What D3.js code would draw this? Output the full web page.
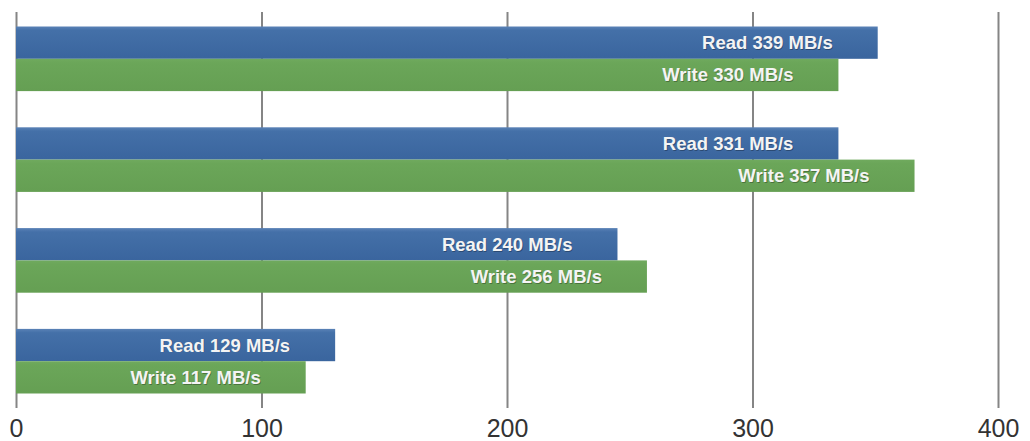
<!DOCTYPE html>
<html>
<head>
<meta charset="utf-8">
<script src="https://cdn.jsdelivr.net/npm/d3@7"></script>
<style>
  html, body { margin: 0; padding: 0; background: #ffffff; }
  svg { display: block; }
</style>
</head>
<body>
<svg id="chart" width="1030" height="441"></svg>
<script>
// ---- data ----
const groups = ["A", "B", "C", "D"];
const series = ["Read", "Write"];
// bar lengths as drawn (MB/s)
const readValues  = [351, 335, 245, 130];
const writeValues = [335, 366, 257, 118];
// labels printed on the bars
const readLabels  = [339, 331, 240, 129];
const writeLabels = [330, 357, 256, 117];
const tickValues = [0, 100, 200, 300, 400];

// ---- layout ----
const svg = d3.select("#chart");
const x = d3.scaleLinear().domain([0, 400]).range([16, 998]);
const y = d3.scaleBand().domain(groups).range([26.5, 393.5]).paddingInner(0.359).paddingOuter(0);
const yInner = d3.scaleBand().domain(series).range([0, y.bandwidth()]).padding(0);

const defs = svg.append("defs");
function grad(id, c0, c1, c2) {
  const g = defs.append("linearGradient").attr("id", id)
    .attr("x1", 0).attr("y1", 0).attr("x2", 0).attr("y2", 1);
  g.append("stop").attr("offset", "0%").attr("stop-color", c0);
  g.append("stop").attr("offset", "12%").attr("stop-color", c1);
  g.append("stop").attr("offset", "100%").attr("stop-color", c2);
}
grad("gRead", "#5a82b6", "#4470a8", "#3a659e");
grad("gWrite", "#70aa5e", "#6ba659", "#659f53");
const fills = { Read: "url(#gRead)", Write: "url(#gWrite)" };

// gridlines + axis
const axis = d3.axisBottom(x).tickValues(tickValues).tickSize(0).tickPadding(0);
const axG = svg.append("g").attr("transform", "translate(0,408)").call(axis);
axG.select(".domain").remove();
axG.selectAll(".tick line").remove();
axG.selectAll(".tick").append("line")
  .attr("x1", 0).attr("x2", 0).attr("y1", -396).attr("y2", 0)
  .attr("stroke", "#858585").attr("stroke-width", 2);
axG.selectAll(".tick text")
  .attr("y", 29)
  .attr("dy", 0)
  .attr("fill", "#333")
  .style("font-family", "'Liberation Sans', Arial, sans-serif")
  .style("font-size", "25px");

// bars
const rows = [];
groups.forEach((g, i) => {
  rows.push({ group: g, s: "Read", v: readValues[i], label: readLabels[i] });
  rows.push({ group: g, s: "Write", v: writeValues[i], label: writeLabels[i] });
});

const barG = svg.append("g");
barG.selectAll("rect").data(rows).join("rect")
  .attr("x", x(0))
  .attr("y", d => y(d.group) + yInner(d.s))
  .attr("width", d => x(d.v) - x(0))
  .attr("height", yInner.bandwidth())
  .attr("fill", d => fills[d.s]);

// labels
const lblG = svg.append("g")
  .style("font-family", "'Liberation Sans', Arial, sans-serif")
  .style("font-size", "18.5px")
  .style("font-weight", "bold");
lblG.selectAll("text.sh").data(rows).join("text").attr("class", "sh")
  .attr("x", d => x(d.v) - 45 + 0.8)
  .attr("y", d => y(d.group) + yInner(d.s) + yInner.bandwidth() / 2 + 0.8)
  .attr("dy", "0.35em")
  .attr("text-anchor", "end")
  .attr("fill", "rgba(0,0,0,0.3)")
  .text(d => `${d.s} ${d.label} MB/s`);
lblG.selectAll("text.lb").data(rows).join("text").attr("class", "lb")
  .attr("x", d => x(d.v) - 45)
  .attr("y", d => y(d.group) + yInner(d.s) + yInner.bandwidth() / 2)
  .attr("dy", "0.35em")
  .attr("text-anchor", "end")
  .attr("fill", "#f4f4f4")
  .text(d => `${d.s} ${d.label} MB/s`);
</script>
</body>
</html>
